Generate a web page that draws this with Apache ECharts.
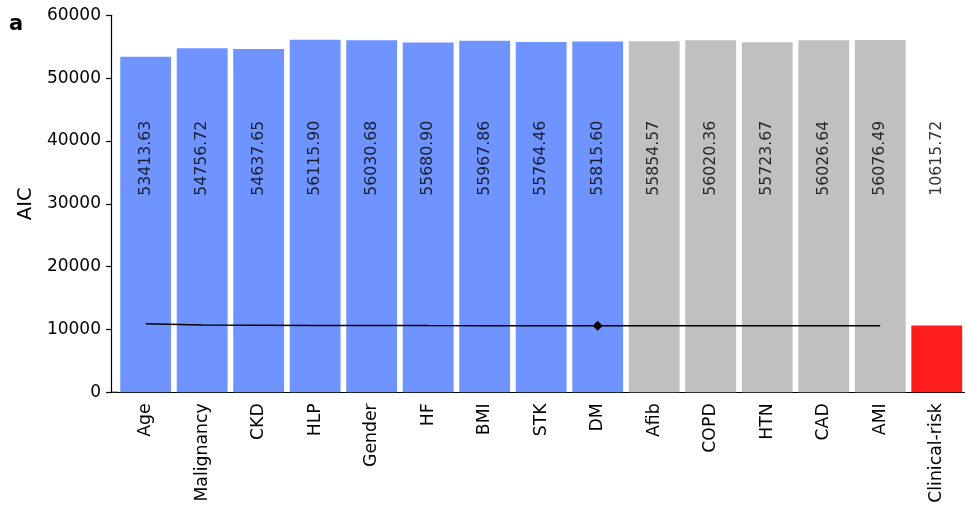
<!DOCTYPE html>
<html>
<head>
<meta charset="utf-8">
<script src="https://cdn.jsdelivr.net/npm/echarts@6/dist/echarts.min.js"></script>
<style>html,body{margin:0;padding:0;background:#fff}#c{width:965px;height:509px}</style>
</head>
<body>
<div id="c"></div>
<script>
const categories = ['Age','Malignancy','CKD','HLP','Gender','HF','BMI','STK','DM','Afib','COPD','HTN','CAD','AMI','Clinical-risk'];
const aicValues = [53413.63,54756.72,54637.65,56115.90,56030.68,55680.90,55967.86,55764.46,55815.60,55854.57,56020.36,55723.67,56026.64,56076.49,10615.72];
const groups = ['sel','sel','sel','sel','sel','sel','sel','sel','sel','rest','rest','rest','rest','rest','clin'];
const cumulativeAIC = [10900,10720,10670,10640,10625,10615,10610,10605,10600,10602,10604,10606,10608,10610,null];
const bestIndex = 8;
const yTicks = [0,10000,20000,30000,40000,50000,60000];
const labelLevel = 37250;

const groupColor = {sel:'#6f94ff', rest:'#c0c0c0', clin:'#ff1c1c'};
const FONT = 'DejaVu Sans';

const chart = echarts.init(document.getElementById('c'), null, {renderer:'canvas'});
chart.setOption({
  animation:false,
  grid:{left:117.4, right:-1.3, top:15.3, bottom:116.7, containLabel:false},
  graphic:[
    {type:'line', shape:{x1:110.5,y1:392.3,x2:118,y2:392.3}, style:{stroke:'#000',lineWidth:1.2}, z:10},
    {type:'text', left:9, top:14, style:{text:'a', font:'bold 21px "DejaVu Sans"', fill:'#000'}}
  ],
  xAxis:{
    type:'category', data:categories, boundaryGap:true,
    axisLine:{lineStyle:{color:'#000',width:1.2}},
    axisTick:{alignWithLabel:true, length:5, lineStyle:{color:'#000',width:1.2}},
    axisLabel:{rotate:90, fontSize:17.3, fontFamily:FONT, color:'#000', margin:11, interval:0}
  },
  yAxis:{
    type:'value', min:0, max:60000, interval:10000, offset:6.4,
    name:'AIC', nameLocation:'middle', nameRotate:90, nameGap:71,
    nameTextStyle:{fontSize:19.5, fontFamily:FONT, color:'#000'},
    axisLine:{show:true, lineStyle:{color:'#000',width:1.2}},
    axisTick:{show:true, length:5, lineStyle:{color:'#000',width:1.2}},
    axisLabel:{fontSize:17, fontFamily:FONT, color:'#000', margin:10,
      formatter:v => yTicks.includes(v) ? String(v) : ''},
    splitLine:{show:false}
  },
  series:[
    {type:'bar', barCategoryGap:'10%',
     data:aicValues.map((v,i)=>({value:v, itemStyle:{color:groupColor[groups[i]]}})),
     z:2},
    {type:'line', data:cumulativeAIC.map((v,i)=> i===bestIndex ? {value:v, symbol:'diamond', symbolSize:10} : {value:v, symbol:'none'}),
     showSymbol:true, lineStyle:{color:'#000', width:1.5}, itemStyle:{color:'#000'}, z:5, connectNulls:false},
    {type:'scatter', symbolSize:0, z:6,
     data:aicValues.map((v,i)=>[i, labelLevel]),
     label:{show:true, position:'inside', rotate:90, fontSize:15.7, fontFamily:FONT, color:'#000',
       formatter:p => aicValues[p.dataIndex].toFixed(2)}}
  ]
});
</script>
</body>
</html>
